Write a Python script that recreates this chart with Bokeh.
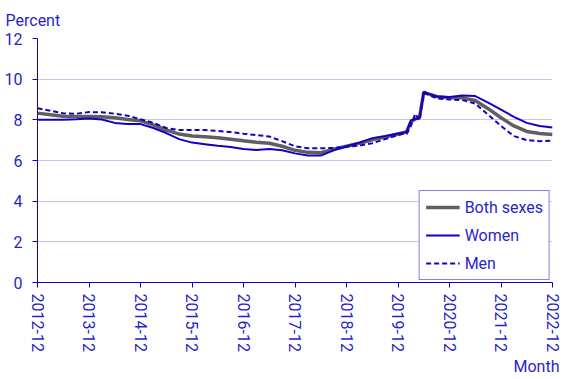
from bokeh.plotting import figure
from bokeh.models import FixedTicker, Legend, LegendItem, Title, Range1d, ColumnDataSource
from bokeh.embed import file_html
from bokeh.resources import INLINE

months = ["2012-12", "2013-03", "2013-06", "2013-09", "2013-12", "2014-03", "2014-06", "2014-09",
          "2014-12", "2015-03", "2015-06", "2015-09", "2015-12", "2016-03", "2016-06", "2016-09",
          "2016-12", "2017-03", "2017-06", "2017-09", "2017-12", "2018-03", "2018-06", "2018-09",
          "2018-12", "2019-03", "2019-06", "2019-09", "2019-12", "2020-01", "2020-02", "2020-03",
          "2020-04", "2020-05", "2020-06", "2020-07", "2020-09", "2020-12", "2021-03", "2021-06",
          "2021-09", "2021-12", "2022-03", "2022-06", "2022-09", "2022-12"]
both = [8.33, 8.25, 8.18, 8.16, 8.17, 8.15, 8.10, 8.02, 7.95, 7.75, 7.50, 7.30, 7.20, 7.17, 7.12, 7.05,
        6.97, 6.90, 6.85, 6.70, 6.50, 6.40, 6.38, 6.55, 6.70, 6.85, 7.02, 7.15, 7.30, 7.35, 7.40, 7.90,
        8.05, 8.10, 9.35, 9.28, 9.15, 9.08, 9.08, 8.95, 8.55, 8.10, 7.70, 7.43, 7.33, 7.28]
women = [8.00, 8.00, 8.00, 8.03, 8.07, 8.02, 7.85, 7.80, 7.79, 7.60, 7.35, 7.05, 6.88, 6.80, 6.72, 6.66,
         6.57, 6.52, 6.57, 6.50, 6.35, 6.25, 6.24, 6.50, 6.70, 6.88, 7.10, 7.20, 7.33, 7.36, 7.42, 7.98,
         8.03, 8.08, 9.38, 9.30, 9.15, 9.12, 9.20, 9.17, 8.85, 8.50, 8.15, 7.85, 7.70, 7.62]
men = [8.57, 8.45, 8.32, 8.30, 8.38, 8.37, 8.30, 8.20, 8.03, 7.85, 7.60, 7.50, 7.50, 7.50, 7.45, 7.40,
       7.32, 7.25, 7.18, 6.95, 6.70, 6.60, 6.60, 6.62, 6.68, 6.73, 6.85, 7.05, 7.25, 7.30, 7.30, 7.70,
       8.30, 8.00, 9.30, 9.25, 9.05, 9.00, 8.97, 8.80, 8.25, 7.70, 7.20, 7.00, 6.95, 6.97]
tick_labels = ["2012-12", "2013-12", "2014-12", "2015-12", "2016-12", "2017-12",
               "2018-12", "2019-12", "2020-12", "2021-12", "2022-12"]
y_ticks = [0, 2, 4, 6, 8, 10, 12]


def month_index(s):
    y, m = s.split("-")
    return (int(y) - 2012) * 12 + (int(m) - 12)


xs = [month_index(s) for s in months]
src = ColumnDataSource(dict(x=xs, both=both, women=women, men=men))

TEXT = "#2a1fc8"
LINE = "#1400c0"
FONT = "Roboto"
FS = "16px"

p = figure(width=560, height=375, output_backend="svg", toolbar_location=None,
           min_border_left=37, min_border_right=8,
           min_border_top=36, min_border_bottom=92)
p.x_range = Range1d(0, 120)
p.y_range = Range1d(0, 12)
p.outline_line_color = None

p.title.text = "Percent"
p.title.text_font = FONT
p.title.text_font_size = FS
p.title.text_font_style = "normal"
p.title.text_color = TEXT
p.title.align = "left"
p.title.offset = -32
p.title.standoff = 17

p.add_layout(Title(text="Month", align="right", text_font=FONT, text_font_size=FS,
                   text_font_style="normal", text_color=TEXT, offset=-7, standoff=0), "below")

tick_pos = [month_index(s) for s in tick_labels]
p.xaxis.ticker = FixedTicker(ticks=tick_pos)
p.xaxis.major_label_overrides = {t: l for t, l in zip(tick_pos, tick_labels)}
p.xaxis.major_label_orientation = "vertical"
p.yaxis.ticker = FixedTicker(ticks=y_ticks)

for ax in (p.xaxis, p.yaxis):
    ax.axis_line_color = LINE
    ax.major_tick_line_color = LINE
    ax.major_tick_in = 0
    ax.major_tick_out = 5
    ax.minor_tick_line_color = None
    ax.major_label_text_font = FONT
    ax.major_label_text_font_size = FS
    ax.major_label_text_color = TEXT
p.xaxis.major_label_standoff = 6
p.yaxis.major_label_standoff = 10

p.xgrid.grid_line_color = None
p.ygrid.grid_line_color = "#c9c5f0"

r_both = p.line("x", "both", source=src, line_color="#5f5f5f", line_width=3.5)
r_women = p.line("x", "women", source=src, line_color=LINE, line_width=2)
r_men = p.line("x", "men", source=src, line_color=LINE, line_width=2, line_dash="5 3")

legend = Legend(items=[LegendItem(label="Both sexes", renderers=[r_both]),
                       LegendItem(label="Women", renderers=[r_women]),
                       LegendItem(label="Men", renderers=[r_men])],
                location="bottom_right")
legend.border_line_color = LINE
legend.border_line_width = 1.5
legend.background_fill_alpha = 1
legend.label_text_font = FONT
legend.label_text_font_size = FS
legend.label_text_color = TEXT
legend.glyph_width = 34
legend.glyph_height = 20
legend.label_height = 20
legend.label_standoff = 5
legend.spacing = 8
legend.padding = 6
legend.margin = 2
p.add_layout(legend)

open("out.html", "w").write(file_html(p, INLINE))
